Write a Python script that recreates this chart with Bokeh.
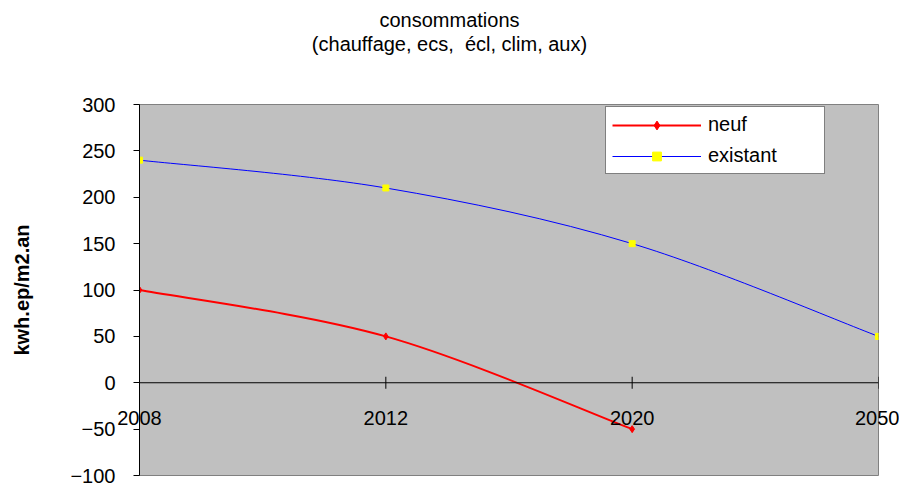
import numpy as np
from bokeh.plotting import figure
from bokeh.models import (Range1d, SingleIntervalTicker, FixedTicker, Span, ColumnDataSource,
                          Legend, LegendItem, Div, LinearAxis)
from bokeh.layouts import column
from bokeh.embed import file_html
from bokeh.resources import INLINE

# ---- data ----
years = ["2008", "2012", "2020", "2050"]
neuf = [100, 50, -50]          # no value for 2050
existant = [240, 210, 150, 50]
title_lines = ["consommations", "(chauffage, ecs,&nbsp; écl, clim, aux)"]
y_label = "kwh.ep/m2.an"

FONT = "Liberation Sans"


def bezier_cols(xs, ys):
    """Catmull-Rom style smoothing (like spreadsheet smoothed lines)."""
    xs = np.asarray(xs, float)
    ys = np.asarray(ys, float)
    n = len(xs)
    d = dict(x0=[], y0=[], x1=[], y1=[], cx0=[], cy0=[], cx1=[], cy1=[])
    for i in range(n - 1):
        im1 = max(i - 1, 0)
        ip2 = min(i + 2, n - 1)
        d["x0"].append(xs[i]); d["y0"].append(ys[i])
        d["x1"].append(xs[i + 1]); d["y1"].append(ys[i + 1])
        d["cx0"].append(xs[i] + (xs[i + 1] - xs[im1]) / 6)
        d["cy0"].append(ys[i] + (ys[i + 1] - ys[im1]) / 6)
        d["cx1"].append(xs[i + 1] - (xs[ip2] - xs[i]) / 6)
        d["cy1"].append(ys[i + 1] - (ys[ip2] - ys[i]) / 6)
    return d


xi = np.arange(len(years))

p = figure(width=899, height=391, output_backend="svg", toolbar_location=None,
           x_range=Range1d(0, len(years) - 1), y_range=Range1d(-100, 300),
           x_axis_location=None, min_border_left=139, min_border_right=21,
           min_border_top=12, min_border_bottom=8)
p.background_fill_color = "#c0c0c0"
p.border_fill_color = "white"
p.outline_line_color = "#808080"
p.outline_line_width = 1
p.xgrid.visible = False
p.ygrid.visible = False

ax = p.yaxis[0]
ax.ticker = SingleIntervalTicker(interval=50)
ax.minor_tick_line_color = None
ax.major_tick_in = 0
ax.major_tick_out = 6
ax.axis_line_color = "black"
ax.major_tick_line_color = "black"
ax.major_label_text_font = FONT
ax.major_label_text_font_size = "20px"
ax.major_label_text_color = "black"
ax.major_label_standoff = 18
ax.axis_label = y_label
ax.axis_label_text_font = FONT
ax.axis_label_text_font_size = "20px"
ax.axis_label_text_font_style = "bold"
ax.axis_label_text_color = "black"
ax.axis_label_standoff = 34

# category labels (drawn by an axis whose labels are pulled up next to the zero line)
xax = LinearAxis(ticker=FixedTicker(ticks=list(xi)),
                 major_label_overrides={int(i): y for i, y in zip(xi, years)})
xax.axis_line_color = None
xax.major_tick_line_color = None
xax.minor_tick_line_color = None
xax.major_tick_in = 0
xax.major_tick_out = 0
xax.major_label_standoff = -65
xax.major_label_text_font = FONT
xax.major_label_text_font_size = "20px"
xax.major_label_text_color = "black"
p.add_layout(xax, "below")

# zero line acting as category axis
p.add_layout(Span(location=0, dimension="width", line_color="black", line_width=1))
p.scatter(x=xi, y=np.zeros(len(years)), marker="dash", angle=np.pi / 2, size=12,
          line_color="black", line_width=1)

# series
b_red = p.bezier(source=ColumnDataSource(bezier_cols(xi[:len(neuf)], neuf)),
                 x0="x0", y0="y0", x1="x1", y1="y1", cx0="cx0", cy0="cy0",
                 cx1="cx1", cy1="cy1", line_color="#ff0000", line_width=2)
s_red = p.scatter(x=xi[:len(neuf)], y=neuf, marker="diamond", size=7,
                  fill_color="#ff0000", line_color="#ff0000")
b_blue = p.bezier(source=ColumnDataSource(bezier_cols(xi, existant)),
                  x0="x0", y0="y0", x1="x1", y1="y1", cx0="cx0", cy0="cy0",
                  cx1="cx1", cy1="cy1", line_color="#0000ff", line_width=1)
s_blue = p.scatter(x=xi, y=existant, marker="square", size=6,
                   fill_color="#ffff00", line_color="#ffff00")

legend = Legend(items=[LegendItem(label="neuf", renderers=[b_red, s_red]),
                       LegendItem(label="existant", renderers=[b_blue, s_blue])],
                location=(466, 301))
legend.background_fill_color = "white"
legend.background_fill_alpha = 1
legend.border_line_color = "black"
legend.border_line_width = 1
legend.label_text_font = FONT
legend.label_text_font_size = "20px"
legend.label_text_color = "black"
legend.padding = 6
legend.spacing = 8
legend.glyph_width = 89
legend.glyph_height = 22
legend.label_height = 22
legend.label_standoff = 7
legend.label_width = 110
legend.margin = 0
p.add_layout(legend, "center")

title = Div(text=('<div style="width:899px;padding-top:8px;text-align:center;'
                  'font-family:\'Liberation Sans\';'
                  'font-size:20px;line-height:24px;color:black;">'
                  + "<br>".join(title_lines) + "</div>"),
            width=899, height=92, margin=(0, 0, 0, 0))

layout = column(title, p, spacing=0)
open("out.html", "w").write(file_html(layout, INLINE))
